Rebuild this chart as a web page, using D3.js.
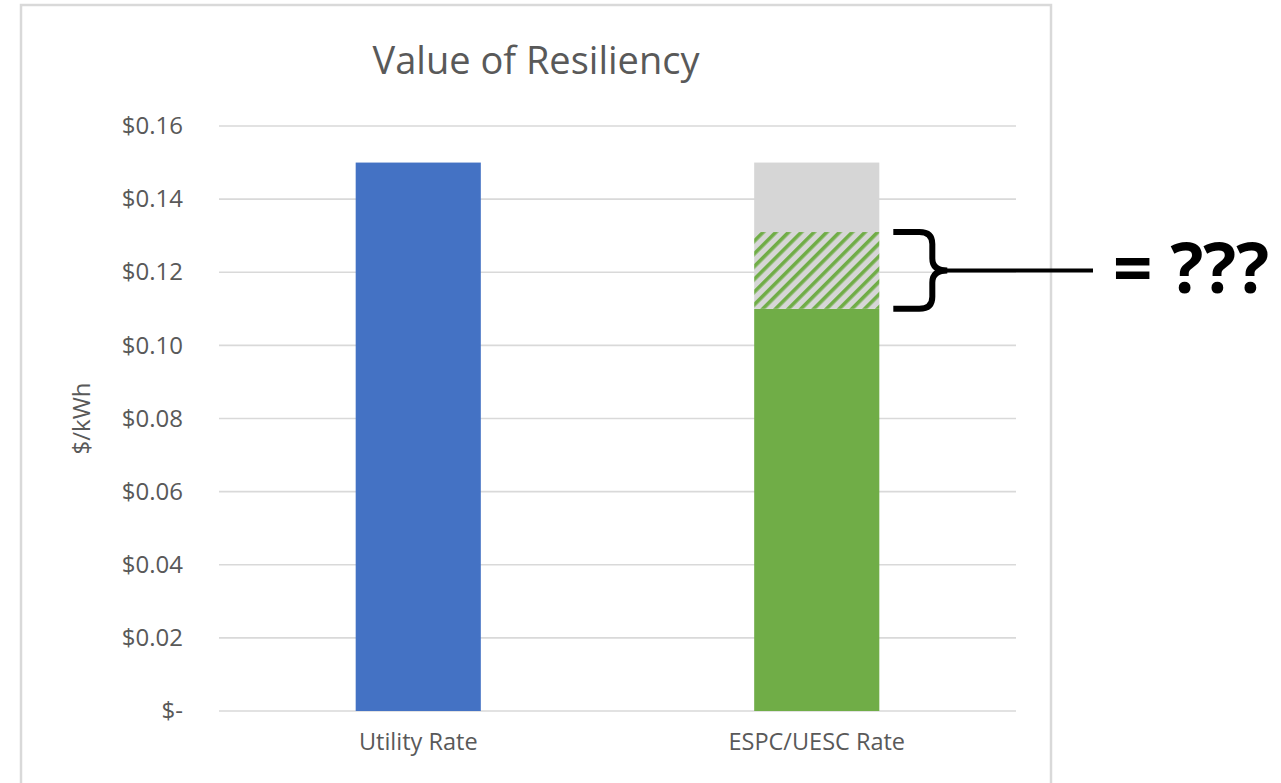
<!DOCTYPE html>
<html>
<head>
<meta charset="utf-8">
<script src="https://cdn.jsdelivr.net/npm/d3@7"></script>
<style>
  body { margin: 0; background: #fff; }
  text { font-family: "Open Sans", sans-serif; }
</style>
</head>
<body>
<div id="wrapper"></div>
<script>
// data
const categories = ["Utility Rate", "ESPC/UESC Rate"];
const utilityRate = [0.15, 0];
const espcRate = [0, 0.11];
const resiliencyValue = [0, 0.021];
const remainderRate = [0, 0.019];
const yTicks = [0, 0.02, 0.04, 0.06, 0.08, 0.10, 0.12, 0.14, 0.16];
const yTickLabels = ["$-", "$0.02", "$0.04", "$0.06", "$0.08", "$0.10", "$0.12", "$0.14", "$0.16"];

const W = 1281, H = 783;
const margin = {top: 126, right: 265, bottom: 72, left: 219};
const frame = {x: 21, y: 5, w: 1030, h: 800};

const svg = d3.select('#wrapper')
  .append('svg')
  .attr('width', W)
  .attr('height', H);

// chart frame
svg.append('rect')
  .attr('x', frame.x).attr('y', frame.y)
  .attr('width', frame.w).attr('height', frame.h)
  .attr('fill', 'none')
  .attr('stroke', '#d9d9d9')
  .attr('stroke-width', 2.5);

// hatch pattern for the resiliency slice
const defs = svg.append('defs');
const pat = defs.append('pattern')
  .attr('id', 'hatch')
  .attr('patternUnits', 'userSpaceOnUse')
  .attr('width', 9).attr('height', 9)
  .attr('patternTransform', 'rotate(45)');
pat.append('rect').attr('width', 9).attr('height', 9).attr('fill', '#d6d6d6');
pat.append('rect').attr('x', 0).attr('width', 3.6).attr('height', 9).attr('fill', '#70ad47');

const x = d3.scaleBand()
  .domain(categories)
  .range([margin.left, W - margin.right])
  .padding(0);

const y = d3.scaleLinear()
  .domain([0, 0.16])
  .range([H - margin.bottom, margin.top]);

const barW = x.bandwidth() * 0.314;

// gridlines
svg.append('g')
  .selectAll('line')
  .data(yTicks)
  .join('line')
  .attr('x1', margin.left)
  .attr('x2', W - margin.right)
  .attr('y1', d => y(d))
  .attr('y2', d => y(d))
  .attr('stroke', '#d9d9d9')
  .attr('stroke-width', 1.6);

// y axis labels
const yaxis = d3.axisLeft(y)
  .tickValues(yTicks)
  .tickFormat((d, i) => yTickLabels[i])
  .tickSize(0)
  .tickPadding(36);
svg.append('g')
  .attr('transform', `translate(${margin.left},0)`)
  .call(yaxis)
  .call(g => g.select('.domain').remove())
  .call(g => g.selectAll('text')
    .attr('font-size', 24)
    .attr('fill', '#595959')
    .attr('font-family', '"Open Sans", sans-serif'));

// x axis labels
const xaxis = d3.axisBottom(x).tickSize(0).tickPadding(22);
svg.append('g')
  .attr('transform', `translate(0,${H - margin.bottom})`)
  .call(xaxis)
  .call(g => g.select('.domain').remove())
  .call(g => g.selectAll('text')
    .attr('font-size', 23.5)
    .attr('fill', '#595959')
    .attr('font-family', '"Open Sans", sans-serif'));

// stacked bars
const rows = categories.map((c, i) => ({
  cat: c,
  utility: utilityRate[i],
  espc: espcRate[i],
  resiliency: resiliencyValue[i],
  remainder: remainderRate[i]
}));
const keys = ['utility', 'espc', 'resiliency', 'remainder'];
const fills = {utility: '#4472c4', espc: '#70ad47', resiliency: 'url(#hatch)', remainder: '#d6d6d6'};
const stacked = d3.stack().keys(keys)(rows);

svg.append('g')
  .selectAll('g')
  .data(stacked)
  .join('g')
  .attr('fill', s => fills[s.key])
  .selectAll('rect')
  .data(s => s.filter(d => d[1] - d[0] > 0))
  .join('rect')
  .attr('x', d => x(d.data.cat) + (x.bandwidth() - barW) / 2)
  .attr('width', barW)
  .attr('y', d => y(d[1]))
  .attr('height', d => y(d[0]) - y(d[1]));

// title, centred in the frame
svg.append('text')
  .attr('x', frame.x + frame.w / 2)
  .attr('y', 74)
  .attr('text-anchor', 'middle')
  .attr('font-size', 38)
  .attr('fill', '#595959')
  .text('Value of Resiliency');

// y axis title
svg.append('text')
  .attr('transform', `translate(90,${y(0.08)}) rotate(-90)`)
  .attr('text-anchor', 'middle')
  .attr('font-size', 24)
  .attr('fill', '#595959')
  .text('$/kWh');

// brace annotation around the resiliency slice
const bx = x(categories[1]) + (x.bandwidth() + barW) / 2 + 14;
const yTop = y(espcRate[1] + resiliencyValue[1]);
const yBot = y(espcRate[1]);
const yMid = (yTop + yBot) / 2;
const p = d3.path();
p.moveTo(bx, yTop);
p.lineTo(bx + 26, yTop);
p.quadraticCurveTo(bx + 39, yTop, bx + 39, yTop + 12);
p.lineTo(bx + 39, yMid - 12);
p.quadraticCurveTo(bx + 39, yMid, bx + 54, yMid);
p.quadraticCurveTo(bx + 39, yMid, bx + 39, yMid + 12);
p.lineTo(bx + 39, yBot - 12);
p.quadraticCurveTo(bx + 39, yBot, bx + 26, yBot);
p.lineTo(bx, yBot);
svg.append('path')
  .attr('d', p.toString())
  .attr('fill', 'none')
  .attr('stroke', '#000')
  .attr('stroke-width', 6);
svg.append('line')
  .attr('x1', bx + 50).attr('x2', 1093)
  .attr('y1', yMid).attr('y2', yMid)
  .attr('stroke', '#000')
  .attr('stroke-width', 4);
svg.append('text')
  .attr('x', 1113)
  .attr('y', 293)
  .attr('font-size', 69)
  .attr('font-weight', 'bold')
  .attr('fill', '#000')
  .text('= ???');
</script>
</body>
</html>
